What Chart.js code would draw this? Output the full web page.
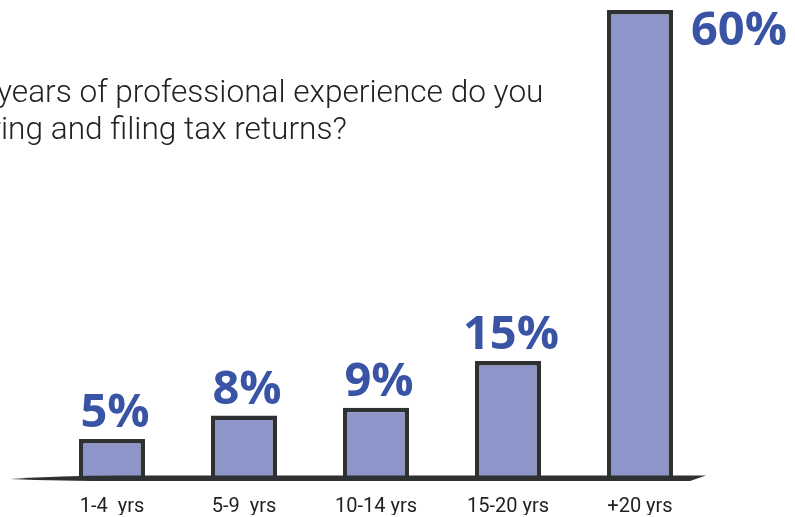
<!DOCTYPE html>
<html>
<head>
<meta charset="utf-8">
<script src="https://cdn.jsdelivr.net/npm/chart.js@4.4.1/dist/chart.umd.min.js"></script>
<style>
  html, body { margin: 0; padding: 0; background: #ffffff; }
  #wrap { width: 795px; height: 517px; position: relative; }
</style>
</head>
<body>
<div id="wrap"><canvas id="experienceChart"></canvas></div>
<script>
// Survey answers: years of professional tax experience
const categories = ['1-4  yrs', '5-9  yrs', '10-14 yrs', '15-20 yrs', '+20 yrs'];
const shares = [5, 8, 9, 15, 60];
const questionLines = [
    'How many years of professional experience do you',
    'have in preparing and filing tax returns?'
];

const barFill = '#8e95c9';
const inkColor = '#2e3032';
const labelBlue = '#3a54a5';

// Question text, sitting top-left behind the bars
const questionPlugin = {
    id: 'question',
    beforeDraw(chart) {
        const ctx = chart.ctx;
        ctx.save();
        ctx.font = '300 31.6px Roboto';
        ctx.fillStyle = '#222';
        ctx.textBaseline = 'alphabetic';
        ctx.textAlign = 'left';
        // the left end of each line runs off the canvas
        const cut1 = ctx.measureText('How many ').width;
        const cut2 = ctx.measureText('have in prepar').width;
        ctx.fillText(questionLines[0], -3 - cut1, 102);
        ctx.fillText(questionLines[1], 1 - cut2, 139);
        ctx.restore();
    }
};

// Brush-like baseline under the bars
const baselinePlugin = {
    id: 'baseline',
    afterDatasetsDraw(chart) {
        const ctx = chart.ctx;
        const y = chart.scales.y.getPixelForValue(0);
        ctx.save();
        ctx.fillStyle = inkColor;
        ctx.beginPath();
        ctx.moveTo(10, y + 1);
        ctx.quadraticCurveTo(60, y - 2.5, 120, y - 2.5);
        ctx.lineTo(706, y - 2.5);
        ctx.lineTo(690, y + 3);
        ctx.lineTo(120, y + 3);
        ctx.quadraticCurveTo(60, y + 3, 10, y + 1);
        ctx.fill();
        ctx.restore();
    }
};

// Percentage labels above each bar, the tallest one beside it
const valueLabelPlugin = {
    id: 'valueLabels',
    afterDatasetsDraw(chart) {
        const ctx = chart.ctx;
        const meta = chart.getDatasetMeta(0);
        ctx.save();
        ctx.font = 'bold 47px "Open Sans"';
        ctx.fillStyle = labelBlue;
        ctx.textBaseline = 'alphabetic';
        meta.data.forEach((bar, i) => {
            const text = shares[i] + '%';
            if (i === meta.data.length - 1) {
                ctx.textAlign = 'left';
                ctx.fillText(text, bar.x + bar.width / 2 + 18, bar.y + 35);
            } else {
                ctx.textAlign = 'center';
                ctx.fillText(text, bar.x + 3, bar.y - 12);
            }
        });
        ctx.restore();
    }
};

const ctx = document.getElementById('experienceChart').getContext('2d');
const experienceChart = new Chart(ctx, {
    type: 'bar',
    data: {
        labels: categories,
        datasets: [{
            data: shares,
            backgroundColor: barFill,
            borderColor: inkColor,
            borderWidth: 4.5,
            borderSkipped: 'bottom',
            barPercentage: 0.5,
            categoryPercentage: 1.0
        }]
    },
    options: {
        responsive: true,
        maintainAspectRatio: false,
        animation: false,
        layout: {
            padding: { left: 46, right: 89, top: 10, bottom: 2 }
        },
        plugins: {
            legend: { display: false },
            tooltip: { enabled: false }
        },
        scales: {
            x: {
                grid: { display: false, drawTicks: false },
                border: { display: false },
                ticks: {
                    color: '#222',
                    padding: 17,
                    font: { family: 'Roboto', size: 20 },
                    maxRotation: 0
                },
                afterFit(scale) {
                    scale.height = 37;
                }
            },
            y: {
                display: false,
                min: 0,
                max: 60
            }
        }
    },
    plugins: [questionPlugin, baselinePlugin, valueLabelPlugin]
});
</script>
</body>
</html>
